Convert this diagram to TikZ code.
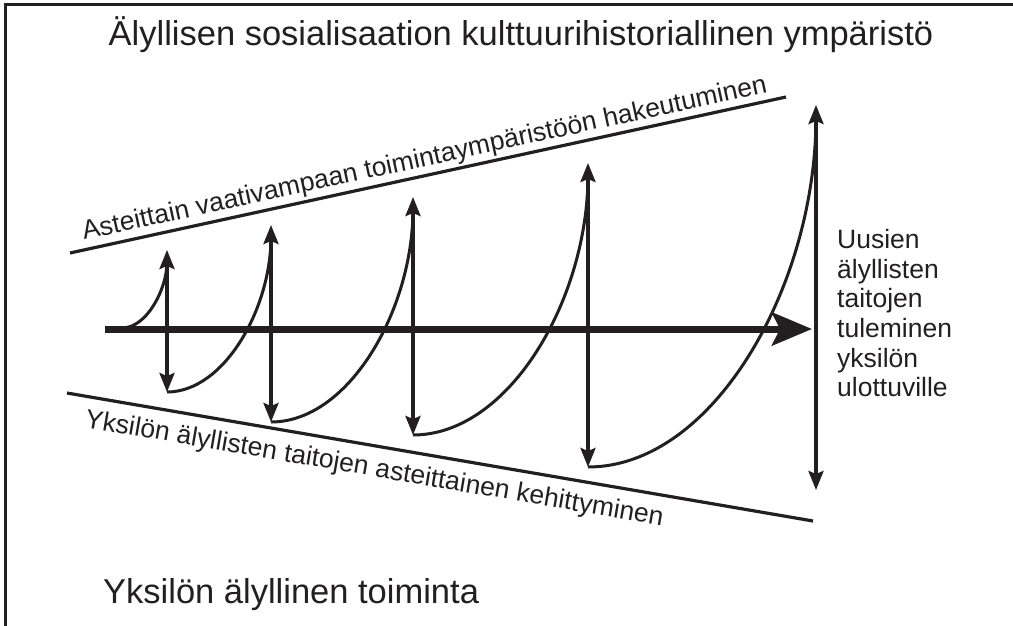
\documentclass[tikz,border=0pt]{standalone}
\usepackage{fontspec}
\setmainfont{Liberation Sans}
\usetikzlibrary{arrows.meta,calc}

\definecolor{ink}{RGB}{35,31,32}

\begin{document}
\begin{tikzpicture}[
  x=1pt, y=-1pt,
  frame/.style={draw=ink, line width=3pt},
  guide/.style={draw=ink, line width=3.2pt},
  rise/.style={draw=ink, line width=3pt},
  span/.style={draw=ink, line width=3.4pt,
               {Stealth[length=19pt,width=15pt,inset=3pt]}-{Stealth[length=19pt,width=15pt,inset=3pt]}},
  mainarrow/.style={draw=ink, line width=7pt, -{Stealth[length=40pt,width=33pt,inset=8pt]}},
  titletext/.style={font=\fontsize{34.5}{40}\selectfont, text=ink, inner sep=0pt},
  labeltext/.style={font=\fontsize{26.5}{29.7}\selectfont, text=ink, inner sep=0pt},
]
\useasboundingbox (0,0) rectangle (1013,626);

% Frame
\draw[frame] (1013,5) -- (5,5) -- (5,626);

% Titles
\node[titletext, anchor=base] (title) at (521,46) {Älyllisen sosialisaation kulttuurihistoriallinen ympäristö};
\node[titletext, anchor=base west] (action) at (103,603) {Yksilön älyllinen toiminta};

% Boundary lines
\coordinate (upL) at (70,253);
\coordinate (upR) at (786,97);
\coordinate (loL) at (67,393);
\coordinate (loR) at (813,521);
\draw[guide] (upL) -- (upR);
\draw[guide] (loL) -- (loR);
\node[labeltext, anchor=base west, rotate=12.2] (envtext) at (84,240) {Asteittain vaativampaan toimintaympäristöön hakeutuminen};
\node[labeltext, anchor=base west, rotate=-9.7] (devtext) at (84,427) {Yksilön älyllisten taitojen asteittainen kehittyminen};

% Main axis
\coordinate (axL) at (105,329);
\coordinate (axR) at (812,329);
\draw[mainarrow] (axL) -- (axR);

% Spans
\foreach \n/\x/\t/\b in {1/167/250/392, 2/271/225/422, 3/413/197/435, 4/588/163/467, 5/816/105/490} {
  \coordinate (t\n) at (\x,\t);
  \coordinate (b\n) at (\x,\b);
}
\coordinate (b0) at (122,328);

% Curves
\foreach \p/\n in {0/1, 1/2, 2/3, 3/4, 4/5} {
  \draw[rise] (b\p) .. controls ($(b\p)!0.55!(b\p -| t\n)$) and ($(t\n)!0.5!(t\n |- b\p)$) .. ($(t\n)+(0,12)$);
}
\foreach \n in {1,...,5}
  \draw[span] (t\n) -- (b\n);

% Right label
\node[labeltext, anchor=north west, align=left] (reach) at (837,229)
  {Uusien\\älyllisten\\taitojen\\tuleminen\\yksilön\\ulottuville};
\end{tikzpicture}
\end{document}
